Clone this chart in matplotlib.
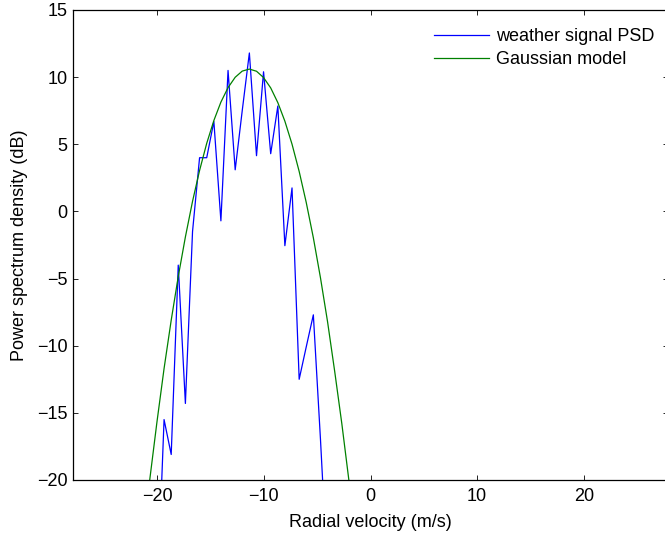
import matplotlib
matplotlib.use('Agg')
import matplotlib.pyplot as plt

# ── Data ─────────────────────────────────────────────────────────────────────
# velocity grid of the measured PSD (m/s)
psd_v = [-20.03, -19.36, -18.69, -18.03, -17.36, -16.69, -16.03, -15.36,
         -14.69, -14.03, -13.36, -12.69, -12.03, -11.36, -10.69, -10.03,
         -9.36, -8.69, -8.03, -7.36, -6.69, -6.03, -5.36, -4.69, -4.03]
# weather signal PSD (dB)
psd_db = [-29.4, -15.5, -18.1, -4.0, -14.3, -1.5, 4.0, 4.0,
          6.7, -0.7, 10.5, 3.1, 7.5, 11.8, 4.15, 10.4,
          4.3, 7.85, -2.55, 1.75, -12.5, -10.1, -7.7, -17.0, -27.0]

# Gaussian model, same grid extended a little on both sides
model_v = [-21.36, -20.69, -20.03, -19.36, -18.69, -18.03, -17.36, -16.69,
           -16.03, -15.36, -14.69, -14.03, -13.36, -12.69, -12.03, -11.36,
           -10.69, -10.03, -9.36, -8.69, -8.03, -7.36, -6.69, -6.03,
           -5.36, -4.69, -4.03, -3.36, -2.69, -2.03, -1.36]
model_db = [-24.6, -19.9, -15.7, -11.7, -8.1, -4.85, -1.9, 0.75,
            3.05, 5.07, 6.77, 8.14, 9.22, 9.99, 10.45, 10.60,
            10.44, 9.97, 9.20, 8.10, 6.72, 5.01, 2.98, 0.68,
            -1.96, -4.95, -8.2, -11.9, -15.8, -20.0, -24.7]

x_ticks = [-20, -10, 0, 10, 20]
y_ticks = [-20, -15, -10, -5, 0, 5, 10, 15]

FS = 13

# ── Figure ───────────────────────────────────────────────────────────────────
plt.rcParams['font.family'] = ['Liberation Sans', 'DejaVu Sans']

fig = plt.figure(figsize=(6.65, 5.36), dpi=100)
fig.patch.set_facecolor('white')
ax = fig.add_axes([73 / 665, 56 / 536, 595 / 665, 470 / 536])

ax.plot(psd_v, psd_db, color='#0000ff', lw=0.9, label='weather signal PSD')
ax.plot(model_v, model_db, color='#008000', lw=0.9, label='Gaussian model')

ax.set_xlim(-27.9, 27.9)
ax.set_ylim(-20, 15)
ax.set_xticks(x_ticks)
ax.set_yticks(y_ticks)
ax.tick_params(direction='in', length=3.6, width=0.6, top=True, right=True,
               labelsize=FS, colors='black')
ax.tick_params(axis='x', pad=6)
ax.tick_params(axis='y', pad=4)
for s in ax.spines.values():
    s.set_linewidth(0.9)

ax.set_xlabel('Radial velocity (m/s)', fontsize=FS, labelpad=6)
ax.set_ylabel('Power spectrum density (dB)', fontsize=FS, labelpad=6)

ax.legend(loc='upper right', frameon=False, fontsize=FS,
          handlelength=3.1, handletextpad=0.35, labelspacing=0.36,
          bbox_to_anchor=(0.995, 0.985), borderaxespad=0.2)

fig.savefig('out.png', dpi=100, facecolor='white')
